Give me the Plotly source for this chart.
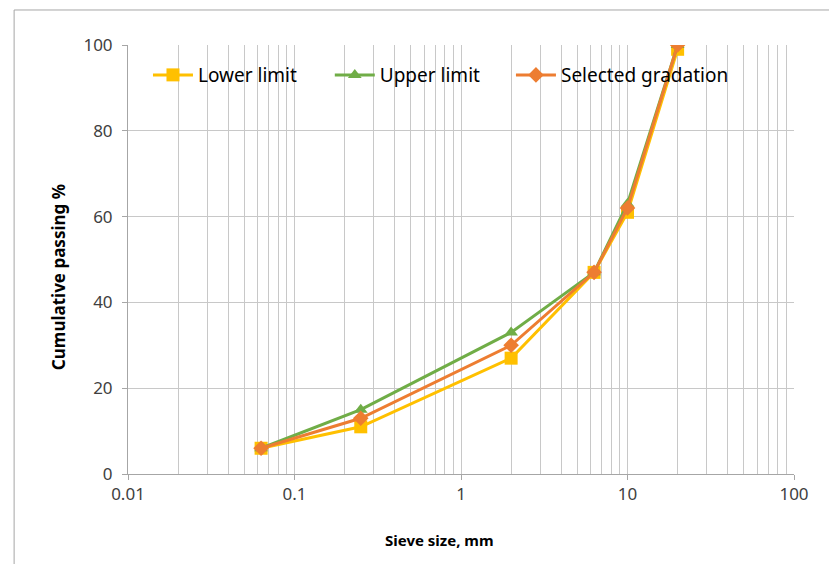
import plotly.graph_objects as go

# Sieve sizes (mm) and cumulative passing (%)
sieve_mm = [0.063, 0.25, 2, 6.3, 10, 20]
lower_limit = [6, 11, 27, 47, 61, 99]
upper_limit = [6, 15, 33, 47, 63, 100]
selected = [6, 13, 30, 47, 62, 100]

series = [
    ("Lower limit", lower_limit, "#FFC000", "square", 13),
    ("Upper limit", upper_limit, "#70AD47", "triangle-up", 12),
    ("Selected gradation", selected, "#ED7D31", "diamond", 12),
]

FONT = "Noto Sans"
GRID = "#c8c8c8"
AXIS = "#a6a6a6"

# one legend box per series so the entries sit at fixed positions along the top
legend_ids = ["legend", "legend2", "legend3"]
legend_x = [0.03, 0.303, 0.575]

fig = go.Figure()
for (name, vals, color, symbol, size), lid in zip(series, legend_ids):
    fig.add_trace(go.Scatter(
        x=sieve_mm, y=vals, name=name, mode="lines+markers",
        line=dict(color=color, width=3),
        marker=dict(symbol=symbol, size=size, color=color),
        legend=lid, showlegend=True,
    ))

# minor gridlines at 2..9 within each decade
minor_vals = [m * 10.0 ** e for e in range(-2, 2) for m in range(2, 10)]

fig.update_xaxes(
    type="log", range=[-2, 2],
    tickvals=[0.01, 0.1, 1, 10, 100], ticktext=["0.01", "0.1", "1", "10", "100"],
    showgrid=True, gridcolor=GRID, gridwidth=1,
    minor=dict(tickvals=minor_vals, showgrid=True, gridcolor=GRID, gridwidth=1, ticks=""),
    showline=True, linecolor=AXIS, linewidth=1,
    ticks="outside", ticklen=5, tickcolor=AXIS,
    tickfont=dict(family=FONT, size=17, color="#404040"),
    zeroline=False,
)
fig.update_yaxes(
    range=[0, 100], dtick=20,
    showgrid=True, gridcolor=GRID, gridwidth=1,
    showline=True, linecolor=AXIS, linewidth=1,
    ticks="outside", ticklen=5, tickcolor=AXIS,
    ticklabelstandoff=6,
    tickfont=dict(family=FONT, size=17, color="#404040"),
    zeroline=False,
)

# axis titles, centred on the whole chart area
fig.add_annotation(text="<b>Sieve size, mm</b>", xref="paper", yref="paper",
                   x=0.468, y=-0.154, showarrow=False, xanchor="center", yanchor="middle",
                   font=dict(family=FONT, size=15, color="#000000"))
fig.add_annotation(text="<b>Cumulative passing %</b>", xref="paper", yref="paper",
                   x=-0.105, y=0.459, showarrow=False, textangle=-90,
                   xanchor="center", yanchor="middle",
                   font=dict(family=FONT, size=17, color="#000000"))

# outer chart-area frame (left and top edges)
fig.add_shape(type="line", xref="paper", yref="paper", x0=-0.171, x1=1.1, y0=1.0816, y1=1.0816,
              line=dict(color=AXIS, width=1))
fig.add_shape(type="line", xref="paper", yref="paper", x0=-0.171, x1=-0.171, y0=-0.3, y1=1.0816,
              line=dict(color=AXIS, width=1))

legend_style = dict(
    orientation="h", y=0.93, xanchor="left", yanchor="middle",
    bgcolor="rgba(0,0,0,0)", font=dict(family=FONT, size=19, color="#000000"),
    itemwidth=40,
)
layout_legends = {lid: dict(legend_style, x=lx) for lid, lx in zip(legend_ids, legend_x)}

fig.update_layout(
    width=829, height=564,
    margin=dict(l=128, r=35, t=45, b=90),
    plot_bgcolor="white", paper_bgcolor="white",
    font=dict(family=FONT, color="#000000"),
    showlegend=True,
    **layout_legends,
)

fig.write_html("out.html")
